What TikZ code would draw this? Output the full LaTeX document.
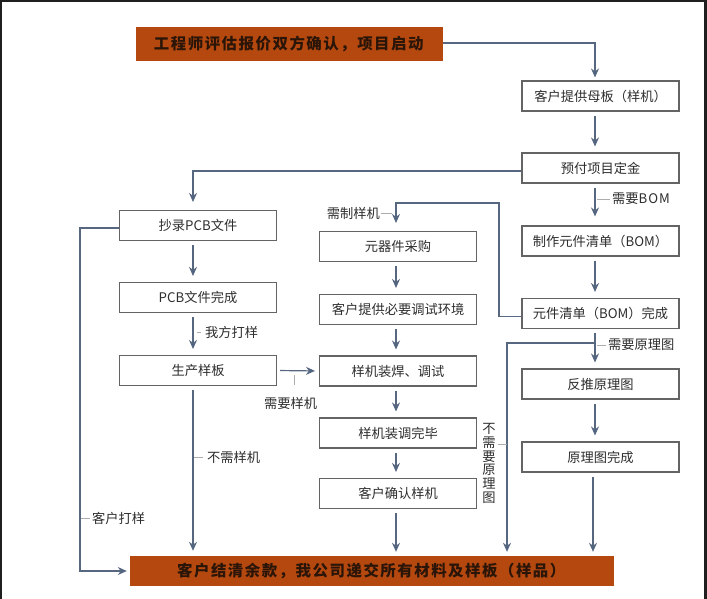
\documentclass[tikz,border=0pt]{standalone}
\usepackage{fontspec}
\setmainfont{Noto Sans CJK SC}
\usetikzlibrary{arrows.meta,calc}
\definecolor{orng}{HTML}{B5480F}
\definecolor{lnc}{HTML}{56677F}
\definecolor{tipc}{HTML}{3E5C86}
\definecolor{bxc}{HTML}{646464}
\definecolor{txtc}{HTML}{2E2E2E}
\definecolor{otxt}{HTML}{2A1508}
\makeatletter
\def\spaced#1{\spaced@i#1\relax}
\def\spaced@i#1{\ifx\relax#1\else#1\kern1.5bp\expandafter\spaced@i\fi}
\makeatother
\begin{document}
\begin{tikzpicture}[x=1bp,y=-1bp,
  box/.style={draw=bxc,line width=1.1bp,fill=white,minimum width=157bp,minimum height=30bp,inner sep=0,font=\fontsize{13.3}{15}\selectfont,text=txtc},
  obox/.style={fill=orng,draw=none,inner sep=0,minimum height=32bp,font=\fontsize{15.5}{17}\selectfont\bfseries,text=otxt},
  arr/.style={draw=lnc,line width=1.2bp,-{Stealth[length=9bp,width=8bp,fill=tipc]},shorten <=4bp,shorten >=6bp},
  lbl/.style={font=\fontsize{13.3}{15}\selectfont,text=txtc,inner sep=0},
  tickm/.style={draw=gray!65,line width=0.8bp}]
\useasboundingbox (0,0) rectangle (707,599);
\fill[white] (0,0) rectangle (707,599);
\fill[black!88] (0,0) rectangle (707,2);
\fill[black!88] (0,0) rectangle (2,599);
\fill[black!88] (704,0) rectangle (707,599);

\coordinate (cL) at (193,0);
\coordinate (cM) at (396,0);
\coordinate (cR) at (595,0);
\coordinate (cR2) at (593,0);
\coordinate (cS) at (507,0);
\coordinate (lc) at (80,0);
\coordinate (loopTop) at (499,203);
\coordinate (br) at (595,343);

% nodes
\node[obox,minimum width=307bp,minimum height=34bp] (top) at (289.5,44) {\spaced{工程师评估报价双方确认，项目启动}};
\node[box] (b2) at (600.5,96) {客户提供母板（样机）};
\node[box] (b3) at (600.5,168) {预付项目定金};
\node[box] (bom) at (600.5,241) {制作元件清单（BOM）};
\node[box] (bomdone) at (600.5,313.5) {元件清单（BOM）完成};
\node[box] (rev) at (600.5,384) {反推原理图};
\node[box] (schdone) at (600.5,457) {原理图完成};

\node[box] (pcb) at (198,225.5) {抄录PCB文件};
\node[box] (pcbdone) at (198,297.5) {PCB文件完成};
\node[box] (proto) at (198,370.5) {生产样板};

\node[box] (buy) at (398,246.5) {元器件采购};
\node[box] (env) at (398,309.5) {客户提供必要调试环境};
\node[box] (weld) at (398,371) {样机装焊、调试};
\node[box] (weldok) at (398,433) {样机装调完毕};
\node[box] (confirm) at (398,493.5) {客户确认样机};

\node[obox,minimum width=484bp,minimum height=30bp] (final) at (372,571) {\spaced{客户结清余款，我公司递交所有材料及样板（样品）}};

% connectors
\draw[arr,shorten <=0bp,shorten >=3bp] ($(top.east)+(0,-1)$) -| (b2.north -| cR);
\draw[arr] (b2.south -| cR) -- (b3.north -| cR);
\draw[arr,shorten <=0bp,shorten >=8bp] ($(b3.west)+(0,3)$) -| (pcb.north -| cL);
\draw[arr,shorten >=9bp] (b3.south -| cR) -- (bom.north -| cR);
\draw[arr] (bom.south -| cR) -- (bomdone.north -| cR);
\draw[arr] (bomdone.south -| cR) -- (rev.north -| cR);
\draw[arr] (rev.south -| cR) -- (schdone.north -| cR);
\draw[arr,shorten >=4bp] (schdone.south -| cR2) -- (final.north -| cR2);
\draw[arr,shorten <=0bp,shorten >=8bp] ($(bomdone.west)+(0,3)$) -| (loopTop) -| (buy.north -| cM);
\draw[arr,shorten <=0bp,shorten >=4bp] (br) -| (final.north -| cS);

\draw[arr] (pcb.south -| cL) -- (pcbdone.north -| cL);
\draw[arr] (pcbdone.south -| cL) -- (proto.north -| cL);
\draw[arr,shorten <=3bp,shorten >=4bp] (proto.east) -- (weld.west);
\draw[arr,shorten >=5bp] (proto.south -| cL) -- (final.north -| cL);
\draw[arr,shorten <=0bp,shorten >=3bp] ($(pcb.west)+(0,2.5)$) -| (lc |- final.west) -- (final.west);

\draw[arr] (buy.south -| cM) -- (env.north -| cM);
\draw[arr] (env.south -| cM) -- (weld.north -| cM);
\draw[arr] (weld.south -| cM) -- (weldok.north -| cM);
\draw[arr] (weldok.south -| cM) -- (confirm.north -| cM);
\draw[arr,shorten >=4bp] (confirm.south -| cM) -- (final.north -| cM);

% labels
\draw[tickm] (597,199) -- (610,199);
\node[lbl,anchor=west] (lbom) at (612,199) {需要B\kern1bp O\kern1bp M};
\draw[tickm] (597,345) -- (606,345);
\node[lbl,anchor=west] (lsch) at (608,345) {需要原理图};
\draw[tickm] (381,213) -- (392,213);
\node[lbl,anchor=east] (lmake) at (380,213) {需制样机};
\draw[tickm] (197,332) -- (201,332);
\node[lbl,anchor=west] (lour) at (205,332) {我方打样};
\draw[tickm] (294,375) -- (294,385);
\node[lbl] (lneed) at (290.5,403) {需要样机};
\draw[tickm] (194,457) -- (203,457);
\node[lbl,anchor=west] (lno) at (207,457) {不需样机};
\draw[tickm] (81,518) -- (90,518);
\node[lbl,anchor=west] (lcus) at (92,518) {客户打样};
\draw[tickm] (498,444) -- (507,444);
\node[lbl,align=center,font=\fontsize{13.3}{13.8}\selectfont] (lnosch) at (489,463.5) {不\\需\\要\\原\\理\\图};
\end{tikzpicture}
\end{document}
